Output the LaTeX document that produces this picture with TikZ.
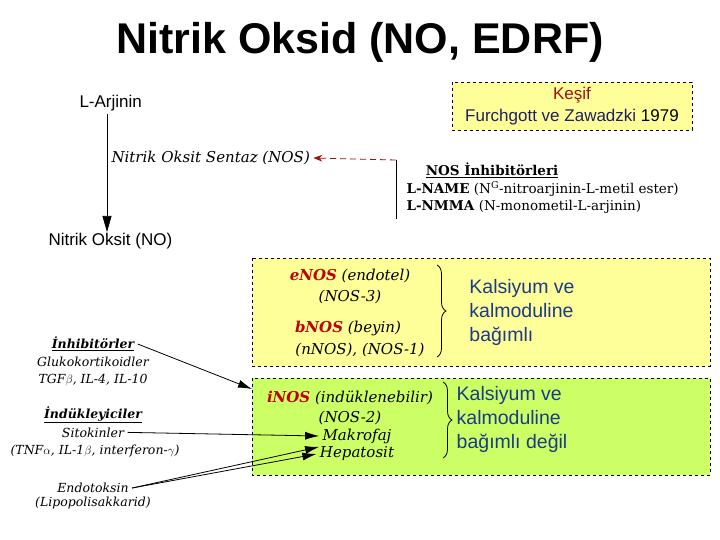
\documentclass[tikz,border=0pt]{standalone}
\usepackage{fontspec}
\setmainfont{DejaVu Serif}
\newfontfamily\sans{Liberation Sans}
\usetikzlibrary{arrows.meta,decorations.pathreplacing}
\definecolor{byel}{HTML}{FFFF99}
\definecolor{bgrn}{HTML}{CCFF66}
\definecolor{kred}{HTML}{A01010}
\definecolor{knavy}{HTML}{202060}
\definecolor{kblue}{HTML}{1A3A8A}
\begin{document}
\begin{tikzpicture}[x=1pt,y=-1pt,
 sn/.style={font=\sans\fontsize{17}{22}\selectfont},
 it/.style={font=\itshape\fontsize{15}{17}\selectfont,align=center},
 sm/.style={font=\itshape\fontsize{12.5}{17}\selectfont,align=center},
 box/.style={draw,dashed,thin},
 ar/.style={-{Latex[length=14pt,width=8pt]},thick},
 bl/.style={font=\sans\fontsize{19.5}{24}\selectfont,text=kblue,align=left}]
\useasboundingbox (0,0) rectangle (720,540);
\node (title) at (360,42) {\sans\bfseries\fontsize{43}{45}\selectfont Nitrik Oksid (NO, EDRF)};
\node[sn,anchor=west] (arj) at (76,103) {L-Arjinin};
\draw[box,fill=byel] (452,82) rectangle (692,130);
\node[sn,align=center] (kesif) at (572,106) {\textcolor{kred}{Keşif}\\\textcolor{knavy}{Furchgott ve Zawadzki} 1979};
\coordinate (vtop) at (107,114);
\node[sn,anchor=west] (no) at (45,241) {Nitrik Oksit (NO)};
\draw[-{Triangle[length=16pt,width=9pt]},semithick] (vtop) -- (107,232);
\node[it,anchor=west] (nos) at (108,158) {Nitrik Oksit Sentaz (NOS)};
\coordinate (rd) at (396,160);
\draw[kred,dash pattern=on 6pt off 4pt,thick,-{Stealth[length=9pt]}] (rd) -- (nos.east);
\draw (rd) -- (396,219);
\node[font=\bfseries\fontsize{13.5}{15}\selectfont] (nosi) at (492,170) {\underline{NOS İnhibitörleri}};
\node[font=\fontsize{13.5}{15}\selectfont,anchor=west] (lname) at (403,189) {\textbf{L-NAME} (N\textsuperscript{G}-nitroarjinin-L-metil ester)};
\node[font=\fontsize{13.5}{15}\selectfont,anchor=west] (lnmma) at (403,207) {\textbf{L-NMMA} (N-monometil-L-arjinin)};
\draw[box,fill=byel] (252,258) rectangle (710,366);
\draw[box,fill=bgrn] (252,378) rectangle (710,475);
\node[it] (enos) at (350,276) {\textcolor{red!75!black}{\bfseries eNOS} (endotel)};
\node[it] (nos3) at (350,297) {(NOS-3)};
\node[it] (bnos) at (348,328) {\textcolor{red!75!black}{\bfseries bNOS} (beyin)};
\node[it] (nos1) at (360,350) {(nNOS), (NOS-1)};
\draw[decorate,decoration={brace,amplitude=9pt},thick] (437,265) -- (437,357);
\node[bl] (k1) at (522,312) {Kalsiyum ve\\kalmoduline\\bağımlı};
\node[it] (inos) at (350,398) {\textcolor{red!75!black}{\bfseries iNOS} (indüklenebilir)};
\node[it] (nos2) at (350,418) {(NOS-2)};
\node[it] (mak) at (357,436) {Makrofaj};
\node[it] (hep) at (357,454) {Hepatosit};
\draw[decorate,decoration={brace,amplitude=9pt},thick] (443,382) -- (443,458);
\node[bl] (k2) at (512,419) {Kalsiyum ve\\kalmoduline\\bağımlı değil};
\node[sm] (inh) at (93,344) {\textbf{\underline{İnhibitörler}}};
\node[sm] (glu) at (93,371) {Glukokortikoidler\\TGF$\beta$, IL-4, IL-10};
\node[sm] (ind) at (93,415) {\textbf{\underline{İndükleyiciler}}};
\node[sm,anchor=north] (sit) at (93,424) {Sitokinler};
\node[sm] (tnf) at (95,451) {(TNF$\alpha$, IL-1$\beta$, interferon-$\gamma$)};
\node[sm] (endo) at (93,488) {Endotoksin};
\node[sm] (lps) at (93,503) {(Lipopolisakkarid)};
\draw[ar] (inh.east) -- (252,389);
\draw[ar] (sit.east) -- (mak.west);
\draw[ar] (endo.east) -- (mak.south west);
\draw[ar] (endo.east) -- (hep.west);
\end{tikzpicture}
\end{document}
